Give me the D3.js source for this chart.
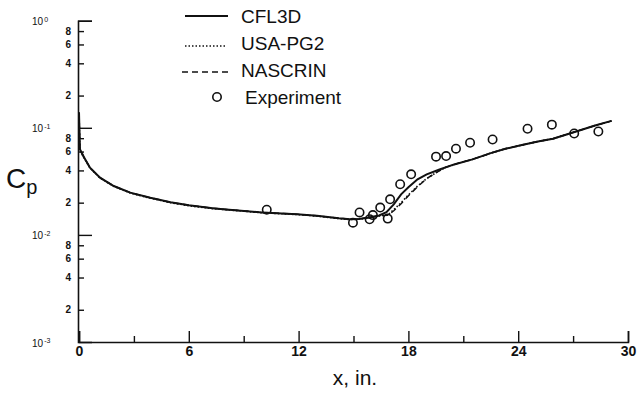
<!DOCTYPE html>
<html>
<head>
<meta charset="utf-8">
<script src="https://cdn.jsdelivr.net/npm/d3@7"></script>
<style>
  body { margin: 0; background: #fff; }
  svg { display: block; font-family: "Liberation Sans", Arial, sans-serif; }
</style>
</head>
<body>
<svg width="640" height="396"></svg>
<script>
// CFL3D (solid)
var cflX  = [0, 0.05, 0.25, 0.6, 1.15, 1.9, 2.8, 3.9, 5.0, 6.0, 7.3, 8.2, 10.0, 11.9, 13.0, 14.2, 14.8, 15.3, 15.9, 16.4, 16.8, 17.2, 17.6, 18.0, 18.5, 19.0, 19.7, 20.5, 21.5, 22.5, 23.3, 24.2, 25.15, 25.9, 27.3, 28.2, 29.1];
var cflCp = [0.139, 0.063, 0.054, 0.0424, 0.0342, 0.0286, 0.0248, 0.0222, 0.0202, 0.0189, 0.0177, 0.0172, 0.0162, 0.0156, 0.0151, 0.0143, 0.0140, 0.0141, 0.0146, 0.0152, 0.0163, 0.0193, 0.0239, 0.0278, 0.033, 0.0367, 0.0408, 0.0455, 0.0507, 0.058, 0.0637, 0.069, 0.075, 0.079, 0.094, 0.105, 0.116];

// USA-PG2 (dotted)
var pgX  = [0, 0.05, 0.25, 0.6, 1.15, 1.9, 2.8, 3.9, 5.0, 6.0, 7.3, 8.2, 10.0, 11.9, 13.0, 14.2, 14.8, 15.3, 15.9, 16.4, 16.9, 17.2, 17.6, 18.0, 18.5, 19.0, 19.5, 20.0, 20.8, 21.5, 22.5, 23.3, 24.2, 25.15, 25.9, 27.3, 28.2, 29.1];
var pgCp = [0.139, 0.062, 0.053, 0.0420, 0.0340, 0.0284, 0.0246, 0.0220, 0.0200, 0.0187, 0.0176, 0.0171, 0.0161, 0.0155, 0.0150, 0.0142, 0.0139, 0.0140, 0.0144, 0.0150, 0.0155, 0.0172, 0.0200, 0.0236, 0.0286, 0.0336, 0.0380, 0.0425, 0.0470, 0.0507, 0.058, 0.0637, 0.069, 0.075, 0.079, 0.094, 0.105, 0.116];

// NASCRIN (dashed)
var nasX  = [0, 0.05, 0.25, 0.6, 1.15, 1.9, 2.8, 3.9, 5.0, 6.0, 7.3, 8.2, 10.0, 11.9, 13.0, 14.2, 14.8, 15.3, 15.9, 16.4, 16.9, 17.2, 17.6, 18.0, 18.5, 19.0, 19.5, 20.0, 20.8, 21.5, 22.5, 23.3, 24.2, 25.15, 25.9, 27.3, 28.2, 29.1];
var nasCp = [0.139, 0.063, 0.054, 0.0424, 0.0342, 0.0286, 0.0248, 0.0222, 0.0202, 0.0189, 0.0177, 0.0172, 0.0162, 0.0156, 0.0151, 0.0143, 0.0140, 0.0141, 0.0145, 0.0151, 0.0153, 0.0168, 0.0195, 0.0232, 0.0282, 0.0335, 0.0380, 0.0425, 0.0472, 0.0507, 0.058, 0.0637, 0.069, 0.075, 0.079, 0.094, 0.105, 0.116];

// Experiment (circles)
var expX  = [10.26, 14.97, 15.33, 15.88, 16.06, 16.46, 16.87, 17.0, 17.55, 18.15, 19.51, 20.06, 20.6, 21.37, 22.6, 24.51, 25.84, 27.06, 28.38];
var expCp = [0.0172, 0.0130, 0.0162, 0.0140, 0.0153, 0.0180, 0.0142, 0.0215, 0.0297, 0.0368, 0.0538, 0.0545, 0.0638, 0.0725, 0.0778, 0.098, 0.107, 0.0885, 0.0924];

var xTicks = [0, 6, 12, 18, 24, 30];
var xMinorTicks = [3, 9, 15, 21, 27];
var decades = [1e-3, 1e-2, 1e-1, 1];
var decadeExp = ["-3", "-2", "-1", "0"];
var minorMult = [2, 4, 6, 8];

var seriesNames = ["CFL3D", "USA-PG2", "NASCRIN", "Experiment"];

var svg = d3.select("svg");

var x = d3.scaleLinear().domain([0, 30]).range([79, 628]);
var y = d3.scaleLog().domain([1e-3, 1]).range([342, 20.7]);

var ink = "#111";

// ejes
var xAxisMajor = d3.axisBottom(x).tickValues(xTicks).tickSize(-11).tickPadding(6).tickFormat(d3.format("d"));
var gx = svg.append("g").attr("transform", "translate(0,342)").call(xAxisMajor);
gx.select(".domain").attr("stroke", ink).attr("stroke-width", 1.6);
gx.selectAll(".tick line").attr("stroke", ink).attr("stroke-width", 1.4);
gx.selectAll(".tick text").attr("fill", ink).attr("font-size", 14).attr("font-weight", "bold")
  .attr("dy", "0.6em").attr("y", 6);

var xAxisMinor = d3.axisBottom(x).tickValues(xMinorTicks).tickSize(-6).tickFormat("");
var gxm = svg.append("g").attr("transform", "translate(0,342)").call(xAxisMinor);
gxm.select(".domain").remove();
gxm.selectAll(".tick line").attr("stroke", ink).attr("stroke-width", 1.4);

var minorVals = [];
decades.slice(0, 3).forEach(function (d) {
  minorMult.forEach(function (m) { minorVals.push(d * m); });
});

var yAxisMinor = d3.axisLeft(y).tickValues(minorVals).tickSize(-6).tickPadding(7)
  .tickFormat(function (d) { return Math.round(d / Math.pow(10, Math.floor(Math.log10(d) + 1e-9))); });
var gym = svg.append("g").attr("transform", "translate(78,0)").call(yAxisMinor);
gym.select(".domain").remove();
gym.selectAll(".tick line").attr("stroke", ink).attr("stroke-width", 1.4);
gym.selectAll(".tick text").attr("fill", ink).attr("font-size", 10).attr("font-weight", "bold");

var yAxisMajor = d3.axisLeft(y).tickValues(decades.slice(1)).tickSize(-14).tickFormat("");
var gy = svg.append("g").attr("transform", "translate(78,0)").call(yAxisMajor);
gy.select(".domain").attr("stroke", ink).attr("stroke-width", 1.6);
gy.selectAll(".tick line").attr("stroke", ink).attr("stroke-width", 1.4);

// etiquetas de decadas 10^n
var decLab = svg.append("g").selectAll("text").data(decades).enter().append("text")
  .attr("x", 32)
  .attr("y", function (d) { return y(d); })
  .attr("dy", "0.45em")
  .attr("font-size", 10)
  .attr("fill", ink);
decLab.append("tspan").text("10");
decLab.append("tspan").attr("font-size", 7).attr("dy", "-0.5em").attr("dx", 1)
  .text(function (d, i) { return decadeExp[i]; });

// titulos
svg.append("text").attr("x", 355).attr("y", 385).attr("text-anchor", "middle")
  .attr("font-size", 21).attr("fill", ink).text("x, in.");

var cp = svg.append("text").attr("x", 6).attr("y", 188).attr("fill", ink);
cp.append("tspan").attr("font-size", 28).text("C");
cp.append("tspan").attr("font-size", 20).attr("dy", 6).text("p");

// curvas
var line = d3.line()
  .x(function (d) { return x(d[0]); })
  .y(function (d) { return y(d[1]); });

function pairs(xs, ys) { return xs.map(function (v, i) { return [v, ys[i]]; }); }

svg.append("path").datum(pairs(nasX, nasCp)).attr("d", line)
  .attr("fill", "none").attr("stroke", ink).attr("stroke-width", 1.5).attr("stroke-dasharray", "6,4");
svg.append("path").datum(pairs(pgX, pgCp)).attr("d", line)
  .attr("fill", "none").attr("stroke", ink).attr("stroke-width", 1.6).attr("stroke-dasharray", "1.5,2");
svg.append("path").datum(pairs(cflX, cflCp)).attr("d", line)
  .attr("fill", "none").attr("stroke", ink).attr("stroke-width", 2);

svg.append("g").selectAll("circle").data(pairs(expX, expCp)).enter().append("circle")
  .attr("cx", function (d) { return x(d[0]); })
  .attr("cy", function (d) { return y(d[1]); })
  .attr("r", 4.2)
  .attr("fill", "none").attr("stroke", ink).attr("stroke-width", 1.6);

// leyenda
var legY = [16, 43, 70, 97];
var legend = svg.append("g");
legend.append("line").attr("x1", 185).attr("x2", 228).attr("y1", legY[0]).attr("y2", legY[0])
  .attr("stroke", ink).attr("stroke-width", 2);
legend.append("line").attr("x1", 185).attr("x2", 227).attr("y1", legY[1] + 3).attr("y2", legY[1] + 3)
  .attr("stroke", ink).attr("stroke-width", 1.6).attr("stroke-dasharray", "1.5,2");
legend.append("line").attr("x1", 182).attr("x2", 228).attr("y1", legY[2] + 2).attr("y2", legY[2] + 2)
  .attr("stroke", ink).attr("stroke-width", 1.5).attr("stroke-dasharray", "6,4");
legend.append("circle").attr("cx", 217).attr("cy", legY[3]).attr("r", 4.2)
  .attr("fill", "none").attr("stroke", ink).attr("stroke-width", 1.6);
legend.selectAll("text").data(seriesNames).enter().append("text")
  .attr("x", function (d, i) { return i === 3 ? 245 : 241; })
  .attr("y", function (d, i) { return legY[i]; })
  .attr("dy", "0.36em")
  .attr("font-size", 19)
  .attr("fill", ink)
  .text(function (d) { return d; });
</script>
</body>
</html>
